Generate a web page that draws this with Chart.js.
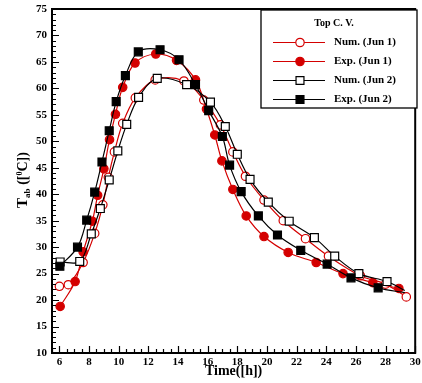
<!DOCTYPE html>
<html>
<head>
<meta charset="utf-8">
<script src="https://cdn.jsdelivr.net/npm/chart.js@4.4.0/dist/chart.umd.min.js"></script>
<style>
  html, body { margin: 0; padding: 0; background: #fff; }
</style>
</head>
<body>
<canvas id="chart" width="422" height="383"></canvas>
<script>
// tick labels
const xTicks = [6, 8, 10, 12, 14, 16, 18, 20, 22, 24, 26, 28, 30];
const yTicks = [10, 15, 20, 25, 30, 35, 40, 45, 50, 55, 60, 65, 70, 75];

// Num. (Jun 1) - open red circles
const numJun1Time = [6.0, 6.6, 7.6, 8.38, 8.93, 9.3, 9.71, 10.27, 11.12, 12.46, 14.4, 15.74, 16.86, 17.7, 18.55, 19.8, 21.1, 22.6, 24.15, 26.3, 28.0, 29.4];
const numJun1Temp = [22.6, 22.9, 27.1, 32.6, 38.0, 43.2, 48.0, 53.4, 58.2, 61.6, 61.4, 57.8, 53.1, 48.0, 43.4, 38.9, 35.0, 31.6, 28.3, 24.6, 23.0, 20.6];

// Exp. (Jun 1) - filled red circles
const expJun1Time = [6.05, 7.06, 7.6, 8.22, 8.58, 9.0, 9.38, 9.78, 10.27, 11.1, 12.5, 13.9, 15.18, 15.92, 16.48, 16.96, 17.7, 18.6, 19.8, 21.43, 23.32, 25.13, 27.14, 28.9];
const expJun1Temp = [18.8, 23.5, 29.1, 34.9, 39.8, 44.8, 50.3, 55.1, 60.2, 64.8, 66.5, 65.3, 61.6, 56.1, 51.2, 46.3, 40.9, 35.9, 32.0, 29.0, 27.1, 25.0, 23.3, 22.2];

// Num. (Jun 2) - open black squares (last value = line end, no marker)
const numJun2Time = [6.05, 7.37, 8.15, 8.76, 9.36, 9.94, 10.54, 11.34, 12.6, 14.58, 16.19, 17.19, 18.0, 18.86, 20.09, 21.5, 23.2, 24.57, 26.2, 28.1, 29.3];
const numJun2Temp = [27.2, 27.3, 32.5, 37.3, 42.7, 48.2, 53.2, 58.3, 61.9, 60.7, 57.4, 52.8, 47.55, 42.8, 38.5, 34.9, 31.8, 28.3, 25.0, 23.5, 21.8];

// Exp. (Jun 2) - filled black squares (last value = line end, no marker)
const expJun2Time = [6.03, 7.22, 7.84, 8.38, 8.87, 9.36, 9.83, 10.45, 11.32, 12.79, 14.07, 15.18, 16.07, 16.99, 17.48, 18.26, 19.42, 20.71, 22.28, 24.06, 25.67, 27.5, 29.3];
const expJun2Temp = [26.4, 30.0, 35.1, 40.4, 46.1, 52.0, 57.5, 62.4, 66.9, 67.3, 65.4, 60.7, 55.8, 50.9, 45.5, 40.5, 35.9, 32.3, 29.4, 26.8, 24.2, 22.3, 21.4];

const seriesLabels = ['Num. (Jun 1)', 'Exp. (Jun 1)', 'Num. (Jun 2)', 'Exp. (Jun 2)'];
const legendTitle = 'Top C. V.';
const xTitle = 'Time([h])';

const RED = '#d40000';
const BLACK = '#000';
const SERIF = '"Liberation Serif", "Times New Roman", serif';

const toPoints = (xs, ys) => xs.map((x, i) => ({ x: x, y: ys[i] }));
const radii = (n, r, hideLast) => Array.from({ length: n }, (_, i) => (hideLast && i === n - 1) ? 0 : r);

const styles = [
    { color: RED, fill: '#fff', shape: 'circle', r: 4.2 },
    { color: RED, fill: RED, shape: 'circle', r: 4.2 },
    { color: BLACK, fill: '#fff', shape: 'rect', r: 5.6 },
    { color: BLACK, fill: BLACK, shape: 'rect', r: 5.6 },
];

const makeSet = (i, xs, ys, hideLast, order) => ({
    label: seriesLabels[i],
    data: toPoints(xs, ys),
    borderColor: styles[i].color,
    borderWidth: 1.2,
    backgroundColor: styles[i].fill,
    pointStyle: styles[i].shape,
    pointRadius: radii(xs.length, styles[i].r, hideLast),
    pointBorderWidth: 1.2,
    pointBackgroundColor: styles[i].fill,
    pointBorderColor: styles[i].color,
    tension: 0.35,
    fill: false,
    order: order,
});

// axis frame, inward ticks, titles and legend
const decorations = {
    id: 'decorations',
    afterDraw(chart) {
        const { ctx, chartArea: a, scales: { x, y } } = chart;
        ctx.save();
        ctx.strokeStyle = '#000';

        // ticks
        ctx.lineWidth = 1.2;
        ctx.beginPath();
        for (let v = 5.5; v <= 30.001; v += 0.5) {
            const px = Math.round(x.getPixelForValue(v)) + 0.5;
            const len = (Math.abs(v % 2) < 0.001) ? 7 : 4;
            ctx.moveTo(px, a.bottom);
            ctx.lineTo(px, a.bottom - len);
        }
        for (let v = 10; v <= 75; v += 1) {
            const py = Math.round(y.getPixelForValue(v)) + 0.5;
            const len = (v % 5 === 0) ? 7 : 4;
            ctx.moveTo(a.left, py);
            ctx.lineTo(a.left + len, py);
        }
        ctx.stroke();

        // frame
        ctx.lineWidth = 2;
        ctx.strokeRect(a.left, a.top, a.right - a.left, a.bottom - a.top);

        // x title
        ctx.fillStyle = '#000';
        ctx.font = 'bold 14px ' + SERIF;
        ctx.textAlign = 'center';
        ctx.textBaseline = 'middle';
        ctx.fillText(xTitle, (a.left + a.right) / 2, 371);

        // y title: T_ab ([^0C])
        const parts = [
            { t: 'T', f: 'bold 15px ', dy: 0 },
            { t: 'ab', f: 'bold 9px ', dy: 3 },
            { t: ' ([', f: 'bold 14px ', dy: 0 },
            { t: '0', f: 'bold 8px ', dy: -5 },
            { t: 'C])', f: 'bold 14px ', dy: 0 },
        ];
        ctx.textAlign = 'left';
        ctx.textBaseline = 'alphabetic';
        let total = 0;
        parts.forEach(p => { ctx.font = p.f + SERIF; p.w = ctx.measureText(p.t).width; total += p.w; });
        ctx.translate(27, 180);
        ctx.rotate(-Math.PI / 2);
        let cx = -total / 2;
        parts.forEach(p => {
            ctx.font = p.f + SERIF;
            ctx.fillText(p.t, cx, p.dy);
            cx += p.w;
        });
        ctx.setTransform(1, 0, 0, 1, 0, 0);

        // legend
        const lx = 261, ly = 10, lw = 156, lh = 98;
        ctx.fillStyle = '#fff';
        ctx.fillRect(lx, ly, lw, lh);
        ctx.lineWidth = 1.3;
        ctx.strokeRect(lx, ly, lw, lh);
        ctx.fillStyle = '#000';
        ctx.font = 'bold 10px ' + SERIF;
        ctx.textAlign = 'center';
        ctx.textBaseline = 'middle';
        ctx.fillText(legendTitle, 334, 23.5);
        ctx.font = 'bold 11px ' + SERIF;
        ctx.textAlign = 'left';
        seriesLabels.forEach((label, i) => {
            const s = styles[i];
            const yy = 42.5 + i * 19;
            ctx.strokeStyle = s.color;
            ctx.lineWidth = 1.2;
            ctx.beginPath();
            ctx.moveTo(273, yy);
            ctx.lineTo(325, yy);
            ctx.stroke();
            ctx.fillStyle = s.fill;
            Chart.helpers.drawPoint(ctx, { pointStyle: s.shape, radius: s.r, borderWidth: 1.2, rotation: 0 }, 300, yy);
            ctx.fillStyle = '#000';
            ctx.fillText(label, 334, yy);
        });
        ctx.restore();
    }
};

const zeroPad = s => { s.paddingLeft = 0; s.paddingRight = 0; s.paddingTop = 0; s.paddingBottom = 0; };

new Chart(document.getElementById('chart').getContext('2d'), {
    type: 'line',
    data: {
        datasets: [
            makeSet(0, numJun1Time, numJun1Temp, false, 3),
            makeSet(1, expJun1Time, expJun1Temp, false, 2),
            makeSet(2, numJun2Time, numJun2Temp, true, 1),
            makeSet(3, expJun2Time, expJun2Temp, true, 0),
        ],
    },
    options: {
        responsive: false,
        devicePixelRatio: 1,
        animation: false,
        layout: { padding: { top: 9, right: 4, left: 0, bottom: 0 } },
        plugins: { legend: { display: false }, tooltip: { enabled: false } },
        scales: {
            x: {
                type: 'linear',
                min: 5.5,
                max: 30,
                afterBuildTicks: s => { s.ticks = xTicks.map(v => ({ value: v })); },
                afterFit: s => { s.height = 30; zeroPad(s); },
                ticks: { color: '#000', font: { family: SERIF, size: 11, weight: 'bold' }, padding: 3, maxRotation: 0, autoSkip: false },
                grid: { display: false, drawTicks: false },
                border: { display: false },
            },
            y: {
                min: 10,
                max: 75,
                afterBuildTicks: s => { s.ticks = yTicks.map(v => ({ value: v })); },
                afterFit: s => { s.width = 52; zeroPad(s); },
                ticks: { color: '#000', font: { family: SERIF, size: 11, weight: 'bold' }, padding: 5, autoSkip: false },
                grid: { display: false, drawTicks: false },
                border: { display: false },
            },
        },
    },
    plugins: [decorations],
});
</script>
</body>
</html>
